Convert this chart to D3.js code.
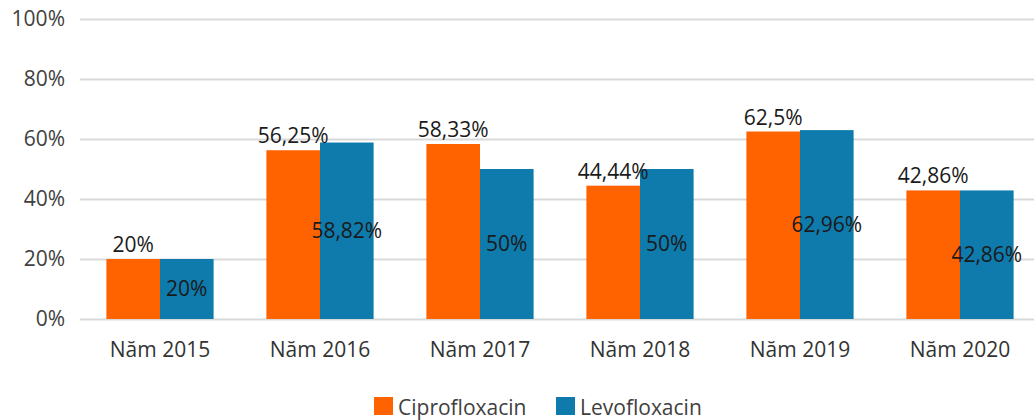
<!DOCTYPE html>
<html>
<head>
<meta charset="utf-8">
<script src="https://cdn.jsdelivr.net/npm/d3@7"></script>
<style>
  html, body { margin: 0; padding: 0; background: #fff; }
  svg { display: block; font-family: "Open Sans", sans-serif; }
</style>
</head>
<body>
<svg id="chart" width="1034" height="420"></svg>
<script>
// Categories, series and tick labels
const years = ["Năm 2015", "Năm 2016", "Năm 2017", "Năm 2018", "Năm 2019", "Năm 2020"];
const seriesNames = ["Ciprofloxacin", "Levofloxacin"];
const cipro = [20, 56.25, 58.33, 44.44, 62.5, 42.86];
const levo = [20, 58.82, 50, 50, 62.96, 42.86];
const ciproLabels = ["20%", "56,25%", "58,33%", "44,44%", "62,5%", "42,86%"];
const levoLabels = ["20%", "58,82%", "50%", "50%", "62,96%", "42,86%"];
const yTicks = [0, 20, 40, 60, 80, 100];

const colors = { Ciprofloxacin: "#fe6300", Levofloxacin: "#0f7bad" };
const FONT = "'Open Sans', sans-serif";
const FS = "21px";

const svg = d3.select("#chart");
const x0 = d3.scaleBand().domain(years).range([80, 1040]).paddingInner(0.33).paddingOuter(0.165);
const x1 = d3.scaleBand().domain(seriesNames).range([0, x0.bandwidth()]);
const y = d3.scaleLinear().domain([0, 100]).range([319, 19]);

// gridlines + y tick labels
const yAxis = d3.axisLeft(y).tickValues(yTicks).tickSize(-960).tickFormat(d => d + "%");
const gy = svg.append("g").attr("transform", "translate(80,0)").call(yAxis);
gy.select(".domain").remove();
gy.selectAll(".tick line").attr("stroke", "#d9d9d9").attr("stroke-width", 2);
gy.selectAll(".tick text").attr("x", -15).attr("fill", "#404040")
  .style("font-size", FS).style("font-family", FONT);

// x axis labels
const xAxis = d3.axisBottom(x0).tickSize(0).tickPadding(23);
const gx = svg.append("g").attr("transform", "translate(0,319)").call(xAxis);
gx.select(".domain").remove();
gx.selectAll(".tick text").attr("fill", "#333")
  .style("font-size", FS).style("font-family", FONT);

const rows = years.map((yr, i) => ({
  year: yr,
  vals: [
    { name: "Ciprofloxacin", v: cipro[i], label: ciproLabels[i] },
    { name: "Levofloxacin", v: levo[i], label: levoLabels[i] }
  ]
}));

const groups = svg.append("g").selectAll("g").data(rows).join("g")
  .attr("transform", d => `translate(${x0(d.year)},0)`);

groups.selectAll("rect").data(d => d.vals).join("rect")
  .attr("x", d => x1(d.name))
  .attr("y", d => y(d.v))
  .attr("width", x1.bandwidth())
  .attr("height", d => y(0) - y(d.v))
  .attr("fill", d => colors[d.name]);

// value labels: orange above the bar, blue centred inside
groups.selectAll("text.val").data(d => d.vals).join("text")
  .attr("class", "val")
  .attr("x", d => x1(d.name) + x1.bandwidth() / 2)
  .attr("y", d => d.name === "Ciprofloxacin" ? y(d.v) - 7 : (y(d.v) + y(0)) / 2 + 7)
  .attr("text-anchor", "middle")
  .attr("fill", "#1a1a1a")
  .style("font-size", FS)
  .text(d => d.label);

// legend
const legend = svg.append("g");
const legendItems = [{ name: "Ciprofloxacin", x: 374 }, { name: "Levofloxacin", x: 556 }];
legend.selectAll("rect").data(legendItems).join("rect")
  .attr("x", d => d.x).attr("y", 397).attr("width", 19).attr("height", 18)
  .attr("fill", d => colors[d.name]);
legend.selectAll("text").data(legendItems).join("text")
  .attr("x", d => d.x + 24).attr("y", 415)
  .attr("fill", "#404040").style("font-size", FS)
  .text(d => d.name);
</script>
</body>
</html>
